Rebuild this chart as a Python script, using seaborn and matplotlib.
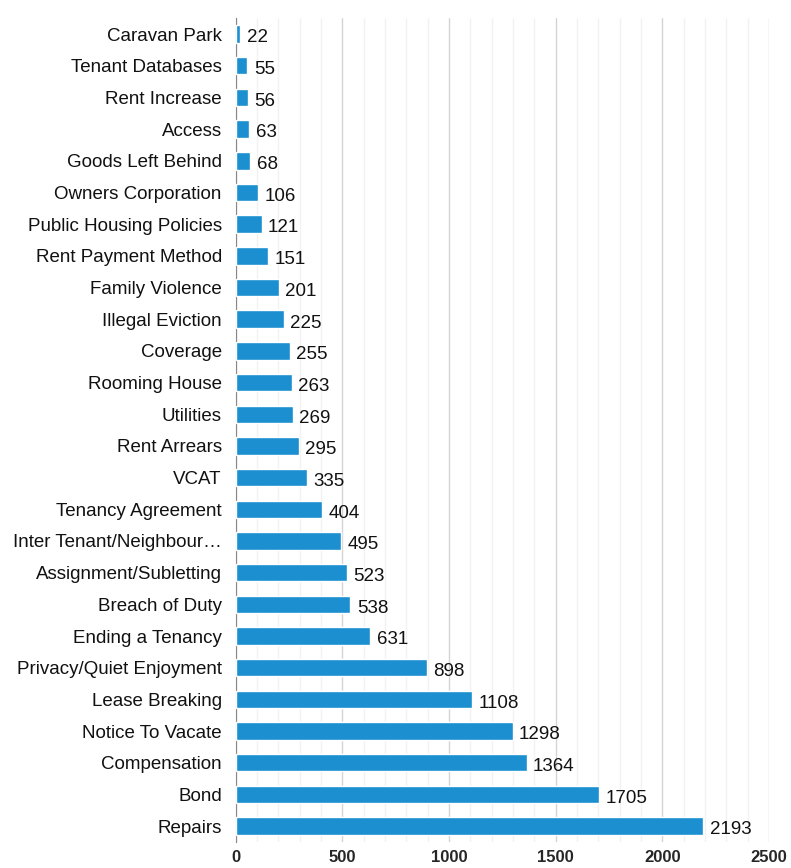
import matplotlib
matplotlib.use("Agg")
import matplotlib.pyplot as plt
from matplotlib.ticker import MultipleLocator, FixedLocator
import pandas as pd
import seaborn as sns

categories = [
    "Caravan Park", "Tenant Databases", "Rent Increase", "Access", "Goods Left Behind",
    "Owners Corporation", "Public Housing Policies", "Rent Payment Method",
    "Family Violence", "Illegal Eviction", "Coverage", "Rooming House", "Utilities",
    "Rent Arrears", "VCAT", "Tenancy Agreement", "Inter Tenant/Neighbour\u2026",
    "Assignment/Subletting", "Breach of Duty", "Ending a Tenancy",
    "Privacy/Quiet Enjoyment", "Lease Breaking", "Notice To Vacate",
    "Compensation", "Bond", "Repairs",
]
counts = [22, 55, 56, 63, 68, 106, 121, 151, 201, 225, 255, 263, 269, 295, 335,
          404, 495, 523, 538, 631, 898, 1108, 1298, 1364, 1705, 2193]

df = pd.DataFrame({"category": categories, "count": counts})

sns.set_style("white")
plt.rcParams["font.family"] = ["Liberation Sans", "DejaVu Sans"]

fig = plt.figure(figsize=(7.91, 8.68), dpi=100)
ax = fig.add_axes([0.298, 0.030, 0.674, 0.949])

sns.barplot(data=df, x="count", y="category", orient="h", color="#1b8fcf",
            width=0.55, saturation=1, ax=ax, zorder=3)

ax.set_xlim(0, 2500)
ax.set_ylim(len(categories) - 0.5, -0.5)
ax.xaxis.set_major_locator(MultipleLocator(500))
ax.xaxis.set_minor_locator(MultipleLocator(100))
ax.grid(axis="x", which="major", color="#d4d4d4", linewidth=1, zorder=0)
ax.grid(axis="x", which="minor", color="#f2f2f2", linewidth=1, zorder=0)
ax.set_axisbelow(True)

for i, v in enumerate(counts):
    ax.text(v + 30, i + 0.12, str(v), va="center", ha="left", fontsize=13.5, color="#111111")

for s in ["top", "right", "bottom"]:
    ax.spines[s].set_visible(False)
ax.spines["left"].set_color("#888888")

ax.yaxis.set_minor_locator(FixedLocator([i + 0.5 for i in range(-1, len(categories))]))
ax.tick_params(axis="y", which="major", length=0, labelsize=13.5, pad=10, labelcolor="#111111")
ax.tick_params(axis="y", which="minor", length=5, color="#888888", direction="out")
ax.tick_params(axis="x", which="both", length=0, labelsize=12, pad=6)
for lab in ax.get_xticklabels():
    lab.set_fontweight("bold")

ax.set_xlabel("")
ax.set_ylabel("")

fig.savefig("out.png", dpi=100)
